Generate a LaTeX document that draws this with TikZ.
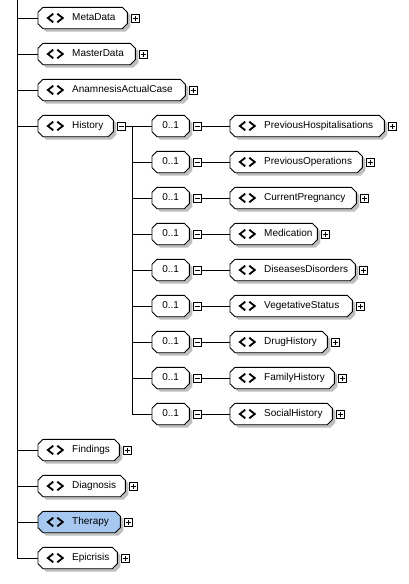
\documentclass[tikz,border=0pt]{standalone}
\usepackage{fontspec}
\setmainfont{Liberation Sans}
\usetikzlibrary{calc}
\pgfdeclarelayer{back}
\pgfdeclarelayer{bg}
\pgfsetlayers{back,bg,main}
\definecolor{shadegray}{RGB}{190,190,190}
\definecolor{selblue}{RGB}{166,200,240}
\tikzset{
  elem/.style={anchor=west, minimum height=21pt, inner xsep=10pt, inner ysep=0pt,
    text height=7.5pt, text depth=2pt, font=\fontsize{10}{11}\selectfont},
  card/.style={anchor=west, minimum width=37pt, minimum height=21pt, inner sep=0pt,
    text height=7.5pt, text depth=2pt, font=\fontsize{10}{11}\selectfont},
  pmbox/.style={draw, fill=white, minimum size=8pt, inner sep=0pt, anchor=west, line width=0.9pt},
  plusbox/.style={pmbox, path picture={
      \draw[line width=0.9pt] ([xshift=-2.5pt]path picture bounding box.center) -- ([xshift=2.5pt]path picture bounding box.center);
      \draw[line width=0.9pt] ([yshift=-2.5pt]path picture bounding box.center) -- ([yshift=2.5pt]path picture bounding box.center);}},
  minusbox/.style={pmbox, path picture={
      \draw[line width=0.9pt] ([xshift=-2.5pt]path picture bounding box.center) -- ([xshift=2.5pt]path picture bounding box.center);}},
  conn/.style={line width=0.9pt},
  chev/.style={line width=1.8pt, miter limit=10},
  outline/.style={draw=black, line width=0.9pt},
}
% chamfered outline around a node: #1 options, #2 node, #3 offset
\newcommand\chpath[3]{%
  \path[#1] ($(#2.north west)+(5pt+#3,-#3)$) -- ($(#2.north east)+(-5pt+#3,-#3)$)
   -- ($(#2.north east)+(#3,-5pt-#3)$) -- ($(#2.south east)+(#3,5pt-#3)$)
   -- ($(#2.south east)+(-5pt+#3,-#3)$) -- ($(#2.south west)+(5pt+#3,-#3)$)
   -- ($(#2.south west)+(#3,5pt-#3)$) -- ($(#2.north west)+(#3,-5pt-#3)$) -- cycle;}
% element: #1 name, #2 x, #3 y, #4 width, #5 text, #6 fill, #7 sign style
\newcommand\elembox[7]{%
  \node[elem] (#1) at (#2,#3) {\makebox[\dimexpr#4pt-20pt\relax][l]{\hspace*{24pt}#5}};
  \begin{pgfonlayer}{bg}
    \chpath{fill=shadegray}{#1}{3pt}
    \chpath{outline, fill=#6}{#1}{0pt}
  \end{pgfonlayer}
  \draw[chev] ($(#1.west)+(15.3pt,4.3pt)$) -- ($(#1.west)+(9.8pt,0pt)$) -- ($(#1.west)+(15.3pt,-4.3pt)$);
  \draw[chev] ($(#1.west)+(19.3pt,4.3pt)$) -- ($(#1.west)+(24.8pt,0pt)$) -- ($(#1.west)+(19.3pt,-4.3pt)$);
  \node[#7] (#1s) at ($(#1.east)+(3.5pt,0pt)$) {};
}
% cardinality box: #1 name, #2 x, #3 y
\newcommand\cardbox[3]{%
  \node[card] (#1) at (#2,#3) {0..1};
  \begin{pgfonlayer}{bg}
    \chpath{fill=shadegray}{#1}{3pt}
    \chpath{outline, fill=white}{#1}{0pt}
  \end{pgfonlayer}
  \node[minusbox] (#1s) at ($(#1.east)+(4pt,0pt)$) {};
}
\begin{document}
\begin{tikzpicture}[x=1pt, y=-1pt]
\useasboundingbox (0,0) rectangle (409,584);
\begin{pgfonlayer}{back}
\fill[white] (0,0) rectangle (409,584);
\end{pgfonlayer}

\elembox{meta}{38}{18}{89}{MetaData}{white}{plusbox}
\elembox{master}{38}{54}{97}{MasterData}{white}{plusbox}
\elembox{anam}{38}{90}{147}{AnamnesisActualCase}{white}{plusbox}
\elembox{hist}{38}{126}{75}{History}{white}{minusbox}
\elembox{find}{38}{450}{81}{Findings}{white}{plusbox}
\elembox{diag}{38}{486}{87}{Diagnosis}{white}{plusbox}
\elembox{ther}{38}{522}{82}{Therapy}{selblue}{plusbox}
\elembox{epic}{38}{558}{79}{Epicrisis}{white}{plusbox}

\cardbox{c1}{152}{126}
\cardbox{c2}{152}{162}
\cardbox{c3}{152}{198}
\cardbox{c4}{152}{234}
\cardbox{c5}{152}{270}
\cardbox{c6}{152}{306}
\cardbox{c7}{152}{342}
\cardbox{c8}{152}{378}
\cardbox{c9}{152}{414}

\elembox{e1}{230}{126}{154}{PreviousHospitalisations}{white}{plusbox}
\elembox{e2}{230}{162}{132}{PreviousOperations}{white}{plusbox}
\elembox{e3}{230}{198}{126}{CurrentPregnancy}{white}{plusbox}
\elembox{e4}{230}{234}{87}{Medication}{white}{plusbox}
\elembox{e5}{230}{270}{125}{DiseasesDisorders}{white}{plusbox}
\elembox{e6}{230}{306}{122}{VegetativeStatus}{white}{plusbox}
\elembox{e7}{230}{342}{97}{DrugHistory}{white}{plusbox}
\elembox{e8}{230}{378}{104}{FamilyHistory}{white}{plusbox}
\elembox{e9}{230}{414}{102}{SocialHistory}{white}{plusbox}

% main trunk
\coordinate (top) at (17,0);
\draw[conn] (top) -- (top |- epic.west);
\foreach \n in {meta,master,anam,hist,find,diag,ther,epic}
  \draw[conn] (top |- \n.west) -- (\n.west);

% History branch
\coordinate (hv) at (132,126);
\draw[conn] (hists.east) -- (c1.west);
\draw[conn] (hv) -- (hv |- c9.west);
\foreach \k in {2,...,9}
  \draw[conn] (hv |- c\k.west) -- (c\k.west);
\foreach \k in {1,...,9}
  \draw[conn] (c\k s.east) -- (e\k.west);
\end{tikzpicture}
\end{document}
